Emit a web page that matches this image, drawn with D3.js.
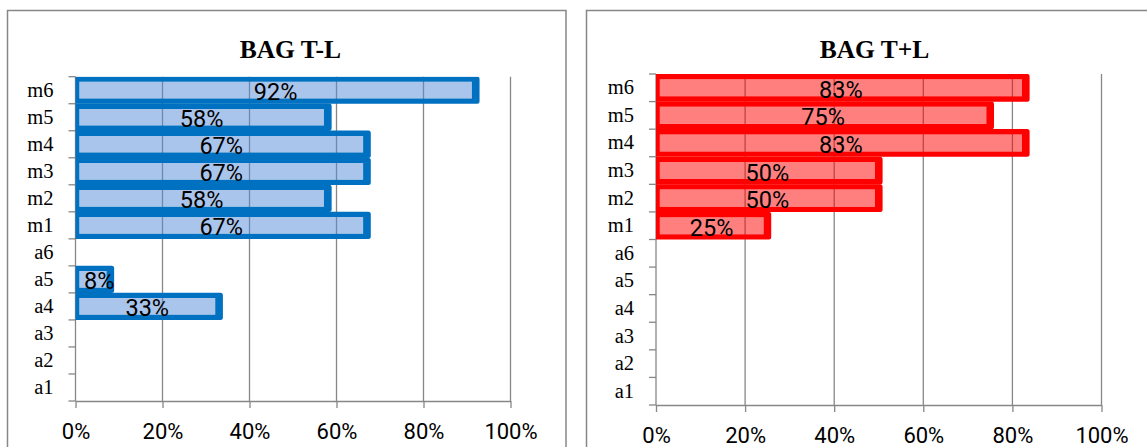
<!DOCTYPE html>
<html>
<head>
<meta charset="utf-8">
<script src="https://cdn.jsdelivr.net/npm/d3@7"></script>
<style>
  html, body { margin: 0; padding: 0; background: #fff; }
  svg { display: block; }
</style>
</head>
<body>
<svg id="chart" width="1147" height="447"></svg>
<script>
// Categories listed bottom to top, as they appear on the vertical axis
const categories = ["a1", "a2", "a3", "a4", "a5", "a6", "m1", "m2", "m3", "m4", "m5", "m6"];
// Share of each category, one array per panel (null = no bar)
const valuesTminusL = [null, null, null, 0.33, 0.08, null, 0.67, 0.58, 0.67, 0.67, 0.58, 0.92];
const valuesTplusL  = [null, null, null, null, null, null, 0.25, 0.50, 0.50, 0.83, 0.75, 0.83];
const xTickValues = [0, 0.2, 0.4, 0.6, 0.8, 1];
const panelTitles = ["BAG T-L", "BAG T+L"];

const svg = d3.select("#chart");
const pct = d3.format(".0%");
const GREY = "#878787";
const SERIF = "'Liberation Serif', 'DejaVu Serif', serif";
const SANS = "Roboto, 'Open Sans', sans-serif";

const panels = [
  {
    title: panelTitles[0], values: valuesTminusL,
    frame: { x: 7.5, y: 10.5, w: 558.5, h: 480 },
    plot: { x0: 75.5, x1: 510.5, y0: 76.7, y1: 401 },
    titleX: 290.3, titleY: 57.5,
    border: "#0070C0", fill: "rgba(84,140,218,0.5)"
  },
  {
    title: panelTitles[1], values: valuesTplusL,
    frame: { x: 586.5, y: 10.5, w: 620, h: 480 },
    plot: { x0: 656, x1: 1101.5, y0: 74, y1: 405 },
    titleX: 874.5, titleY: 57.5,
    border: "#FF0000", fill: "rgba(255,0,0,0.5)"
  }
];

// Rounded outer outline minus the inner rectangle -> thick bar border
function borderPath(xa, xb, yc, hh, bx, by, r) {
  const p = d3.path();
  const L = xa - bx, R = xb + bx, T = yc - hh - by, B = yc + hh + by;
  p.moveTo(L + r, T);
  p.lineTo(R - r, T);
  p.arcTo(R, T, R, T + r, r);
  p.lineTo(R, B - r);
  p.arcTo(R, B, R - r, B, r);
  p.lineTo(L + r, B);
  p.arcTo(L, B, L, B - r, r);
  p.lineTo(L, T + r);
  p.arcTo(L, T, L + r, T, r);
  p.closePath();
  const il = xa + bx, ir = xb - bx, it = yc - hh + by, ib = yc + hh - by;
  if (ir > il) {
    p.moveTo(il, it);
    p.lineTo(il, ib);
    p.lineTo(ir, ib);
    p.lineTo(ir, it);
    p.closePath();
  }
  return p.toString();
}

panels.forEach((cfg, idx) => {
  const g = svg.append("g");
  const P = cfg.plot;

  // chart frame
  g.append("rect")
    .attr("x", cfg.frame.x).attr("y", cfg.frame.y)
    .attr("width", cfg.frame.w).attr("height", cfg.frame.h)
    .attr("fill", "#fff").attr("stroke", GREY).attr("stroke-width", 1.5);

  // title
  g.append("text")
    .attr("x", cfg.titleX).attr("y", cfg.titleY)
    .attr("text-anchor", "middle")
    .attr("font-family", SERIF)
    .attr("font-weight", "bold")
    .attr("font-size", 25.5)
    .attr("fill", "#000")
    .text(cfg.title);

  const x = d3.scaleLinear().domain([0, 1]).range([P.x0, P.x1]);
  const y = d3.scaleBand().domain(categories).range([P.y1, P.y0]).paddingInner(0).paddingOuter(0);
  const bw = y.bandwidth();

  // vertical gridlines
  g.append("g").selectAll("line")
    .data(xTickValues.filter(d => d > 0))
    .join("line")
    .attr("x1", d => x(d)).attr("x2", d => x(d))
    .attr("y1", P.y0).attr("y2", P.y1)
    .attr("stroke", GREY).attr("stroke-width", 1.3);

  // horizontal (value) axis
  const xAxis = g.append("g")
    .attr("transform", `translate(0,${P.y1})`)
    .call(d3.axisBottom(x).tickValues(xTickValues).tickFormat(pct).tickSize(7).tickSizeOuter(0));
  xAxis.select(".domain").attr("stroke", GREY).attr("stroke-width", 1.3);
  xAxis.selectAll(".tick line").attr("stroke", GREY).attr("stroke-width", 1.3);
  xAxis.selectAll(".tick text")
    .attr("y", 38).attr("dy", 0)
    .attr("font-family", SANS)
    .attr("font-size", 22)
    .attr("fill", "#000");

  // category axis: line plus ticks on band boundaries
  const yAxisG = g.append("g");
  yAxisG.append("line")
    .attr("x1", P.x0).attr("x2", P.x0).attr("y1", P.y0).attr("y2", P.y1)
    .attr("stroke", GREY).attr("stroke-width", 1.3);
  const boundaries = categories.map(c => y(c)).concat([y(categories[0]) + bw]);
  yAxisG.selectAll("line.bt")
    .data(boundaries)
    .join("line")
    .attr("class", "bt")
    .attr("x1", P.x0 - 7).attr("x2", P.x0)
    .attr("y1", d => d).attr("y2", d => d)
    .attr("stroke", GREY).attr("stroke-width", 1.3);
  const yAxis = g.append("g")
    .attr("transform", `translate(${P.x0},0)`)
    .call(d3.axisLeft(y).tickSize(0).tickPadding(22));
  yAxis.select(".domain").remove();
  yAxis.selectAll(".tick text")
    .attr("dy", 0).attr("y", 6.5)
    .attr("font-family", SERIF)
    .attr("font-size", 20.5)
    .attr("fill", "#000");

  // bars
  const clipId = "clip" + idx;
  g.append("clipPath").attr("id", clipId)
    .append("rect")
    .attr("x", P.x0).attr("y", P.y0)
    .attr("width", cfg.frame.x + cfg.frame.w - P.x0).attr("height", P.y1 - P.y0);

  const rows = categories.map((c, i) => ({ cat: c, v: cfg.values[i] })).filter(d => d.v != null);
  const hh = bw * 0.407, bx = 3.85, by = 2.65;
  const barG = g.append("g").attr("clip-path", `url(#${clipId})`);

  barG.selectAll("rect.fill")
    .data(rows)
    .join("rect")
    .attr("class", "fill")
    .attr("x", d => x(0) + bx)
    .attr("y", d => y(d.cat) + bw / 2 - hh + by)
    .attr("width", d => Math.max(0, x(d.v) - x(0) - 2 * bx))
    .attr("height", 2 * (hh - by))
    .attr("fill", cfg.fill);

  barG.selectAll("path.border")
    .data(rows)
    .join("path")
    .attr("class", "border")
    .attr("d", d => borderPath(x(0), x(d.v), y(d.cat) + bw / 2, hh, bx, by, 2.5))
    .attr("fill", cfg.border)
    .attr("fill-rule", "evenodd");

  // value labels, centred in the bar but kept clear of the axis
  const labels = g.append("g").selectAll("text")
    .data(rows)
    .join("text")
    .attr("text-anchor", "middle")
    .attr("font-family", SANS)
    .attr("font-size", 23.5)
    .attr("fill", "#000")
    .attr("y", d => y(d.cat) + bw / 2 + 10)
    .text(d => pct(d.v));
  labels.attr("x", function (d) {
    const half = this.getComputedTextLength() / 2;
    const mid = (x(0) + x(d.v)) / 2;
    return Math.max(mid, x(0) + half + 8.5);
  });
});
</script>
</body>
</html>
